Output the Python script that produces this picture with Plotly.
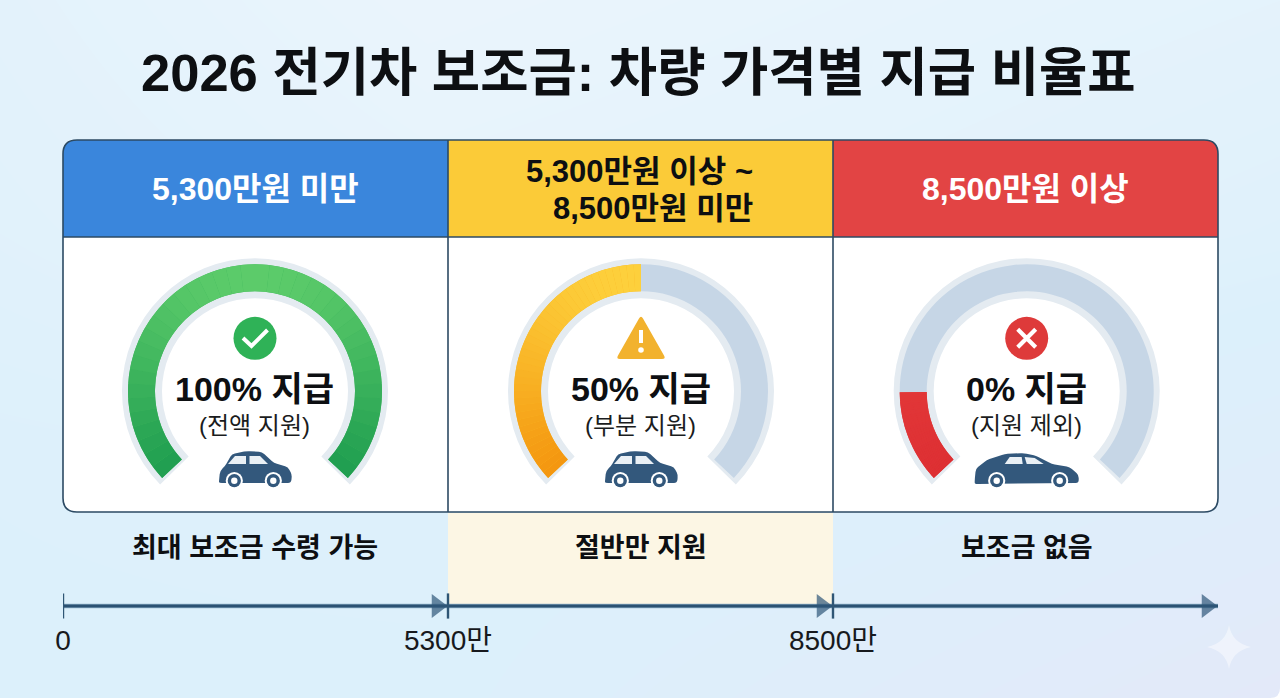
import numpy as np
import plotly.graph_objects as go

W, H = 1280, 698
FONT = "Liberation Sans, Noto Sans CJK KR"
INK = "#0d0f12"
NAVY = "#2c4a63"
CAR = "#33587c"

# ---- data
title = "2026 전기차 보조금: 차량 가격별 지급 비율표"
gauge_fill_pct = [100, 50, 16]
gauge_labels = ["100% 지급", "50% 지급", "0% 지급"]
gauge_subs = ["(전액 지원)", "(부분 지원)", "(지원 제외)"]
bottom_labels = ["최대 보조금 수령 가능", "절반만 지원", "보조금 없음"]
axis_ticks = ["0", "5300만", "8500만", " "]

# ---- layout bits
gauge_cx = [255, 641, 1026.7]
gauge_cy = 391.3
col_edges = [63, 448, 833, 1218]
fill_top = ["#5ccb6a", "#fdd03c", "#e8423f"]
fill_bottom = ["#1f9e50", "#f4960f", "#dd2f33"]
fill_mid = ["#3eb55d", "#f9b526", "#e3393a"]
track = "#c6d6e6"
halo = "#e4ebf1"
SWEEP = 266
HALO_SWEEP = 269


def mix(c1, c2, t):
    a = [int(c1[i:i + 2], 16) for i in (1, 3, 5)]
    b = [int(c2[i:i + 2], 16) for i in (1, 3, 5)]
    return "#" + "".join(f"{round(x + (y - x) * t):02x}" for x, y in zip(a, b))


def dom(cx, cy, r):
    return dict(x=[(cx - r) / W, (cx + r) / W], y=[1 - (cy + r) / H, 1 - (cy - r) / H])


def rounded(pts, cx=0, cy=0, r=3):
    # closed path with each corner cut back by r and rounded
    pts = [np.array([cx + x, cy + y], dtype=float) for x, y in pts]
    n = len(pts)
    d = ""
    for i in range(n):
        p, a, b = pts[i], pts[i - 1], pts[(i + 1) % n]
        u = (a - p) / np.linalg.norm(a - p)
        v = (b - p) / np.linalg.norm(b - p)
        p0 = p + u * min(r, np.linalg.norm(a - p) / 2)
        p1 = p + v * min(r, np.linalg.norm(b - p) / 2)
        d += ("M" if i == 0 else " L") + f"{p0[0]:.1f},{p0[1]:.1f} Q{p[0]:.1f},{p[1]:.1f} {p1[0]:.1f},{p1[1]:.1f}"
    return d + " Z"


def poly(pts, cx=0, cy=0):
    return "M" + " L".join(f"{cx + x},{cy + y}" for x, y in pts) + " Z"


def panel_pts(x0, y0, x1, y1, r):
    # white panel with rounded bottom corners
    a = np.linspace(0, np.pi / 2, 10)
    xs = [x0, x1] + list(x1 - r + r * np.cos(a)) + list(x0 + r - r * np.sin(a)) + [x0]
    ys = [y0, y0] + list(y1 - r + r * np.sin(a)) + list(y1 - r + r * np.cos(a)) + [y0]
    return xs, ys


fig = go.Figure()

# background wash
fig.add_trace(go.Heatmap(
    x=[0, 427, 853, 1280], y=[0, 233, 466, 698],
    z=[[0.72, 0.95, 0.85, 0.75],
       [0.65, 0.8, 0.72, 0.6],
       [0.52, 0.55, 0.5, 0.3],
       [0.5, 0.5, 0.25, 0.0]],
    colorscale=[[0, "#e3e9f9"], [0.5, "#dcf0fb"], [1, "#ecf5fc"]],
    zmin=0, zmax=1, zsmooth="best", showscale=False, hoverinfo="skip",
    xaxis="x", yaxis="y",
))

# white table body
px_, py_ = panel_pts(63, 200, 1218, 512, 14)
fig.add_trace(go.Scatter(x=px_, y=py_, mode="lines", fill="toself", fillcolor="#ffffff",
                         line=dict(width=0), hoverinfo="skip", showlegend=False))
# yellow band under the middle column
fig.add_trace(go.Scatter(x=[448, 833, 833, 448, 448], y=[513, 513, 605, 605, 513], mode="lines",
                         fill="toself", fillcolor="#fcf6e4", line=dict(width=0),
                         hoverinfo="skip", showlegend=False))

# gauges
BANDS = 40
for i, pct in enumerate(gauge_fill_pct):
    cx = gauge_cx[i]
    fig.add_trace(go.Pie(values=[HALO_SWEEP, 360 - HALO_SWEEP], sort=False, direction="clockwise",
                         rotation=-HALO_SWEEP / 2, hole=93 / 133, domain=dom(cx, gauge_cy, 133),
                         marker=dict(colors=[halo, "rgba(0,0,0,0)"], line=dict(width=0)),
                         textinfo="none", hoverinfo="skip", showlegend=False))
    used = SWEEP * pct / 100
    # solid pass first so the seams of the gradient pass don't show the halo
    fig.add_trace(go.Pie(values=[used, SWEEP - used, 360 - SWEEP], sort=False, direction="clockwise",
                         rotation=-SWEEP / 2, hole=100 / 127, domain=dom(cx, gauge_cy, 127),
                         marker=dict(colors=[fill_mid[i], track, "rgba(0,0,0,0)"], line=dict(width=0)),
                         textinfo="none", hoverinfo="skip", showlegend=False))
    step = used / BANDS
    colors = []
    for b in range(BANDS):
        ang = np.radians(-SWEEP / 2 + step * (b + 0.5))
        colors.append(mix(fill_top[i], fill_bottom[i], (1 - np.cos(ang)) / (1 - np.cos(np.radians(SWEEP / 2)))))
    fig.add_trace(go.Pie(values=[step] * BANDS + [360 - used], sort=False, direction="clockwise",
                         rotation=-SWEEP / 2, hole=100 / 127, domain=dom(cx, gauge_cy, 127),
                         marker=dict(colors=colors + ["rgba(0,0,0,0)"], line=dict(width=0)),
                         textinfo="none", hoverinfo="skip", showlegend=False))

# price axis along the bottom, equal steps per bracket
axis_y = [0.5] * len(axis_ticks)
fig.add_trace(go.Scatter(x=axis_ticks, y=axis_y, mode="lines", line=dict(color="#8fb0c8", width=4.5),
                         xaxis="x2", yaxis="y2", hoverinfo="skip", showlegend=False))
fig.add_trace(go.Scatter(x=axis_ticks, y=axis_y, mode="lines", line=dict(color="#2b5273", width=3),
                         xaxis="x2", yaxis="y2", hoverinfo="skip", showlegend=False))
fig.add_trace(go.Scatter(x=axis_ticks[:3], y=axis_y[:3], mode="markers",
                         marker=dict(symbol="line-ns", size=18, line=dict(color="#2f5675", width=2.4)),
                         xaxis="x2", yaxis="y2", hoverinfo="skip", showlegend=False))
fig.add_trace(go.Scatter(x=axis_ticks, y=axis_y, mode="markers",
                         marker=dict(symbol="triangle-up", angleref="previous", size=[0, 21, 21, 21],
                                     standoff=11, color="#2f5779", line=dict(width=0)),
                         xaxis="x2", yaxis="y2", hoverinfo="skip", showlegend=False))

shapes = []


def add_path(d, fill="rgba(0,0,0,0)", color="rgba(0,0,0,0)", width=0):
    shapes.append(dict(type="path", path=d, xref="x", yref="y", layer="above",
                       fillcolor=fill, line=dict(color=color, width=width)))


def add_circle(cx, cy, r, fill):
    shapes.append(dict(type="circle", x0=cx - r, x1=cx + r, y0=cy - r, y1=cy + r, xref="x", yref="y",
                       layer="above", fillcolor=fill, line=dict(width=0)))


# header cells
add_path("M63,237 V154 Q63,140 77,140 H448 V237 Z", fill="#3a86dc")
add_path("M448,140 H833 V237 H448 Z", fill="#fbcb38")
add_path("M833,140 H1204 Q1218,140 1218,154 V237 H833 Z", fill="#e24444")
# table lines
add_path("M77,140 H1204 Q1218,140 1218,154 V498 Q1218,512 1204,512 H77 Q63,512 63,498 V154 Q63,140 77,140 Z",
         color=NAVY, width=1.6)
for x in col_edges[1:3]:
    add_path(f"M{x},140 V512", color=NAVY, width=1.6)
add_path("M63,237 H1218", color=NAVY, width=1.6)

# status icons
add_circle(gauge_cx[0], 338.3, 21.5, "#2fb257")
add_path(f"M{gauge_cx[0] - 12},338 L{gauge_cx[0] - 3.5},346 L{gauge_cx[0] + 12.5},330", color="white", width=4)
add_path(rounded([(0, -23), (25, 21), (-25, 21)], gauge_cx[1], 338, r=4), fill="#f2b22e")
add_path(f"M{gauge_cx[1]},330 V343", color="white", width=4)
add_circle(gauge_cx[1], 350, 2.8, "white")
add_circle(gauge_cx[2], 338.3, 21.5, "#de3a3a")
add_path(f"M{gauge_cx[2] - 9},329.3 L{gauge_cx[2] + 9},347.3 M{gauge_cx[2] + 9},329.3 L{gauge_cx[2] - 9},347.3",
         color="white", width=4.2)

# cars
hatch_body = [(-36, 11), (-35, 1), (-30, -4), (-23, -16), (-8, -19), (7, -18), (19, -7), (33, -3), (37, 5), (36, 13), (-36, 13)]
hatch_win = [[(-27, -6), (-20, -14), (-9, -14), (-9, -6)], [(-5.5, -14), (5, -14), (13, -6), (-5.5, -6)]]
hatch_wheels = [-20.7, 18.3]
sedan_body = [(-52, 11), (-51, -1), (-40, -10), (-22, -16), (-3, -17), (10, -14), (25, -6), (43, -3), (52, 5), (52, 13), (-52, 14)]
sedan_win = [[(-22, -6), (-17, -13), (-5, -13), (-4, -6)], [(-2, -13), (8, -12), (17, -6), (0, -6)]]
sedan_wheels = [-30, 33]

for cx, body, wins, wheels in [(gauge_cx[0], hatch_body, hatch_win, hatch_wheels),
                               (gauge_cx[1], hatch_body, hatch_win, hatch_wheels),
                               (gauge_cx[2], sedan_body, sedan_win, sedan_wheels)]:
    add_path(rounded(body, cx, 470, r=3), fill=CAR)
    for w in wins:
        add_path(poly(w, cx, 470), fill="#eaf0f5")
    for wx in wheels:
        add_circle(cx + wx, 480.7, 8.6, "white")
        add_circle(cx + wx, 480.7, 6.6, CAR)
        add_circle(cx + wx, 480.7, 3.2, "white")

# sparkle bottom right, and the rounded page corner
add_path("M1229,625 Q1232,643 1251,647 Q1232,651 1229,669 Q1226,651 1207,647 Q1226,643 1229,625 Z",
         fill="rgba(255,255,255,0.45)")
add_path("M1280,688 V698 H1270 Q1280,698 1280,688 Z", fill="white")

annotations = []


def add_text(x, y, text, size, color=INK, bold=True, anchor="center"):
    annotations.append(dict(x=x, y=y, xref="x", yref="y", text=text, showarrow=False,
                            xanchor=anchor, yanchor="middle",
                            font=dict(family=FONT, size=size, color=color, weight=700 if bold else 400)))


add_text(638, 72, title, 52.5)
add_text(255, 189, "5,300만원 미만", 32, color="#ffffff")
add_text(755, 171, "5,300만원 이상 ~", 31, anchor="right")
add_text(755, 208, "8,500만원 미만", 31, anchor="right")
add_text(1025.5, 189, "8,500만원 이상", 32, color="#ffffff")
for i in range(3):
    add_text(gauge_cx[i] - 0.5, 389, gauge_labels[i], 34)
    add_text(gauge_cx[i] - 0.5, 425, gauge_subs[i], 24, color="#1a1c20", bold=False)
for x, txt in zip([255, 641, 1026.5], bottom_labels):
    add_text(x, 548, txt, 27)

fig.update_layout(
    width=W, height=H, margin=dict(l=0, r=0, t=0, b=0, pad=0), paper_bgcolor="white", plot_bgcolor="rgba(0,0,0,0)",
    autosize=False, showlegend=False, shapes=shapes, annotations=annotations,
    xaxis=dict(range=[0, W], domain=[0, 1], visible=False, fixedrange=True, automargin=False),
    yaxis=dict(range=[H, 0], domain=[0, 1], visible=False, fixedrange=True, automargin=False),
    xaxis2=dict(type="category", categoryorder="array", categoryarray=axis_ticks, range=[0, 3],
                domain=[col_edges[0] / W, col_edges[3] / W], anchor="y2", showgrid=False, showline=False,
                zeroline=False, ticks="", automargin=False, tickfont=dict(family=FONT, size=28, color="#17191d")),
    yaxis2=dict(range=[0, 1], domain=[1 - 621 / H, 1 - 591 / H], anchor="x2", visible=False, fixedrange=True,
                automargin=False),
)

fig.write_html("out.html", config=dict(displayModeBar=False),
               post_script="document.body.style.margin='0';document.body.style.overflow='hidden';")
